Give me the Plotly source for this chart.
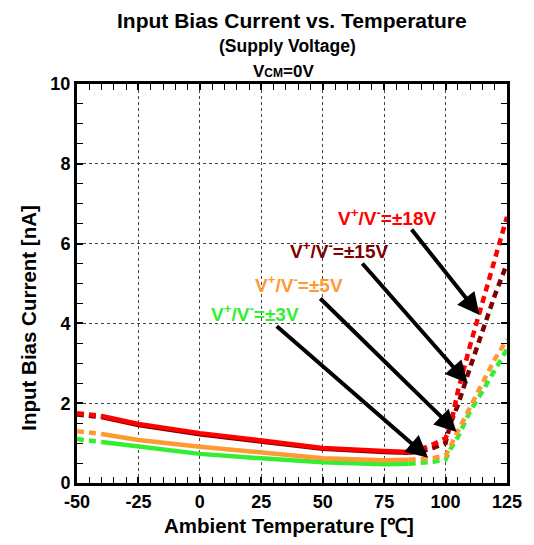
import plotly.graph_objects as go

temps = [-50, -40, -25, 0, 25, 50, 75, 85, 90, 95, 100, 102, 105, 110, 115, 120, 125]
i_18v = [1.75, 1.68, 1.48, 1.25, 1.07, 0.88, 0.80, 0.78, 0.85, 0.97, 1.12, 1.42, 2.3, 3.45, 4.5, 5.6, 6.67]
i_15v = [1.72, 1.65, 1.45, 1.22, 1.04, 0.86, 0.78, 0.76, 0.79, 0.88, 1.0, 1.5, 1.95, 2.9, 3.8, 4.7, 5.5]
i_5v = [1.30, 1.23, 1.08, 0.91, 0.77, 0.62, 0.57, 0.58, 0.60, 0.63, 0.68, 0.95, 1.3, 1.9, 2.5, 3.1, 3.6]
i_3v = [1.10, 1.03, 0.92, 0.73, 0.62, 0.52, 0.47, 0.48, 0.50, 0.53, 0.59, 0.85, 1.15, 1.8, 2.3, 2.85, 3.35]

labels = ["V<sup>+</sup>/V<sup>-</sup>=±3V", "V<sup>+</sup>/V<sup>-</sup>=±5V",
          "V<sup>+</sup>/V<sup>-</sup>=±15V", "V<sup>+</sup>/V<sup>-</sup>=±18V"]
colors = ["#33ee33", "#ff9933", "#7f0000", "#ff0000"]
series = [i_3v, i_5v, i_15v, i_18v]

x_ticks = [-50, -25, 0, 25, 50, 75, 100, 125]
y_ticks = [0, 2, 4, 6, 8, 10]

# label positions and arrow tail/head (data units)
label_xy = [(22.3, 4.26), (40.3, 4.99), (56.8, 5.84), (76.5, 6.67)]
arrow_tail = [(30.7, 3.96), (48.4, 4.66), (65.6, 5.54), (85.7, 6.39)]
arrow_head = [(92.9, 0.63), (104.5, 1.28), (109.0, 2.5), (113.8, 4.21)]

solid_lo, solid_hi = -40, 85

fig = go.Figure()
for ys, col in zip(series, colors):
    pts = list(zip(temps, ys))
    left = [p for p in pts if p[0] <= solid_lo]
    mid = [p for p in pts if solid_lo <= p[0] <= solid_hi]
    right = [p for p in pts if p[0] >= solid_hi]
    for seg, dash in ((left, "7px,5px"), (mid, "solid"), (right, "7px,5px")):
        fig.add_trace(go.Scatter(x=[p[0] for p in seg], y=[p[1] for p in seg], mode="lines",
                                 line=dict(color=col, width=4.5, dash=dash), showlegend=False,
                                 hoverinfo="skip"))

font_b = "Liberation Sans, Arial, sans-serif"
annotations = []
for (lx, ly), (tx, ty), (hx, hy), lab, col in zip(label_xy, arrow_tail, arrow_head, labels, colors):
    annotations.append(dict(x=lx, y=ly, xref="x", yref="y", text="<b>" + lab + "</b>", showarrow=False,
                            xanchor="center", yanchor="middle",
                            font=dict(family=font_b, size=19, color=col)))
    annotations.append(dict(x=hx, y=hy, ax=tx, ay=ty, xref="x", yref="y", axref="x", ayref="y",
                            text="", showarrow=True, arrowhead=2, arrowsize=1.1, arrowwidth=4,
                            arrowcolor="black"))

OFF = 8  # page body margin
W, H = 534 - OFF, 545 - OFF
ml, mr, mt, mb = 77 - OFF, 21, 84 - OFF, 62
pw, ph = W - ml - mr, H - mt - mb

def px2paper(xp, yp):
    return (xp - OFF - ml) / pw, (H - mb - (yp - OFF)) / ph

texts = [("<b>Input Bias Current vs. Temperature</b>", 21, 295, 20, 0),
         ("<b>(Supply Voltage)</b>", 17.5, 290, 46, 0),
         ("<b>V<span style='font-size:12px'>CM</span>=0V</b>", 17, 286, 71, 0),
         ("<b>Ambient Temperature [℃]</b>", 20.5, 292, 525, 0),
         ("<b>Input Bias Current [nA]</b>", 20.5, 27, 318, -90)]
for txt, sz, xp, yp, ang in texts:
    xx, yy = px2paper(xp, yp)
    annotations.append(dict(x=xx, y=yy, xref="paper", yref="paper", text=txt, showarrow=False,
                            xanchor="center", yanchor="middle", textangle=ang, borderpad=0,
                            font=dict(family=font_b, size=sz, color="black")))

axis_common = dict(
    tickfont=dict(size=18, family=font_b), ticks="inside", ticklen=6, tickwidth=1.5, tickcolor="black",
    showgrid=True, gridcolor="#444444", griddash="dot", gridwidth=1,
    showline=True, linecolor="black", linewidth=3, mirror="ticks", zeroline=False,
)

fig.update_layout(
    width=W, height=H,
    margin=dict(l=ml, r=mr, t=mt, b=mb),
    paper_bgcolor="white", plot_bgcolor="white",
    font=dict(family=font_b, color="black"),
    annotations=annotations,
    xaxis=dict(range=[-50, 125], tickvals=x_ticks, ticktext=["<b>%d</b>" % v for v in x_ticks],
               minor=dict(dtick=5, ticks="inside", ticklen=6, tickwidth=1.2, tickcolor="black", showgrid=False),
               **axis_common),
    yaxis=dict(range=[0, 10], tickvals=y_ticks, ticktext=["<b>%d</b>" % v for v in y_ticks],
               minor=dict(dtick=0.5, ticks="inside", ticklen=6, tickwidth=1.2, tickcolor="black", showgrid=False),
               **axis_common),
)

fig.write_html("out.html")
